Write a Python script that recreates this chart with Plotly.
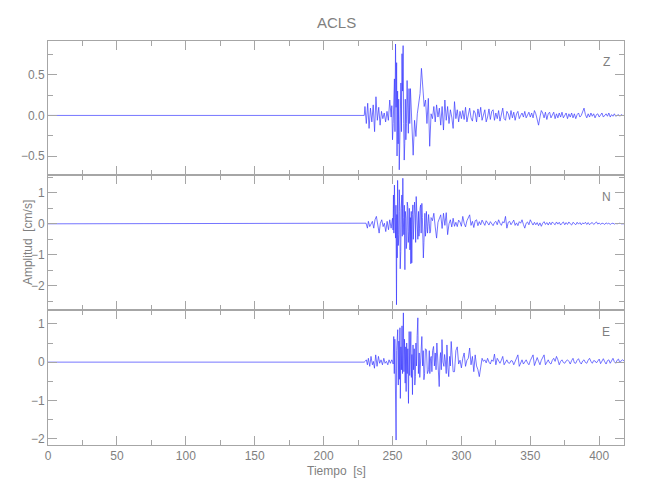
import plotly.graph_objects as go

# ---------------- data ----------------
X_RANGE = [0, 418]
PRE_T = [0, 229.5]          # quiet part before the arrival
PRE_A = [0.0, 0.0]

# Z component
Z_EARLY_START = 230         # 1 s samples
Z_EARLY = [0.11, -0.10, 0.15, -0.16, 0.09, -0.08, 0.13, -0.20, 0.23, -0.06,
           0.10, -0.12, 0.05, -0.04, 0.03, -0.08, 0.05, -0.06, 0.19]
Z_STRONG_T = [249.0, 249.5, 250.0, 250.5, 251.0, 251.4, 251.8, 252.2, 252.6, 253.0,
              253.3, 253.7, 254.1, 254.5, 254.9, 255.3, 255.7, 256.1, 256.5, 256.9,
              257.3, 257.7, 258.1, 258.5, 258.9, 259.3, 259.7, 260.1, 260.6, 261.0,
              261.5, 262.0, 262.5, 263.0]
Z_STRONG_A = [-0.02, 0.12, -0.30, -0.10, 0.11, 0.45, -0.20, 0.88, 0.10, 0.65,
              -0.50, 0.30, -0.35, 0.20, -0.67, -0.40, 0.02, 0.40, -0.20, 0.76,
              0.30, 0.86, -0.10, -0.55, -0.35, 0.20, -0.30, -0.10, 0.43, 0.10,
              -0.22, 0.33, -0.10, 0.33]
Z_LATE_START = 264          # 1 s samples to the end
Z_LATE = [-0.10, -0.49, -0.06, -0.26, 0.02, 0.19, 0.27, 0.58, 0.35, 0.11,
          0.19, -0.10, 0.21, -0.38, 0.02, -0.04, 0.11, -0.08, 0.13, -0.02,
          0.09, -0.12, 0.11, -0.18, 0.19, -0.06, 0.11, -0.10, 0.07, -0.02,
          -0.16, 0.17, -0.04, 0.07, -0.08, 0.05, -0.04,
          0.06, -0.05, 0.10, -0.08, 0.02, 0.09, -0.03, -0.07, 0.06, 0.03,
          -0.08, 0.08, -0.02, 0.10, -0.06, 0.01, 0.07, -0.08, -0.02, 0.08,
          -0.05, 0.05, 0.07, -0.06, 0.03, -0.04, 0.06, -0.07, 0.02, 0.09,
          -0.04, -0.06, 0.05, 0.02, -0.05, 0.06, -0.03, 0.04, -0.06, 0.02,
          0.05, -0.04, 0.00, 0.03, -0.02, 0.05, -0.03, 0.01, 0.04, -0.02,
          0.03, -0.03, 0.06, 0.02, -0.06, -0.12, -0.02, 0.06, 0.03, -0.03,
          0.04, -0.05, 0.02, 0.04, -0.03, 0.01, 0.04, -0.04, 0.02, -0.03,
          0.03, -0.02, 0.04, -0.03, 0.01, 0.03, -0.04, 0.02, -0.02, 0.03,
          -0.03, 0.02, -0.04, 0.01, 0.03, -0.02, 0.00, 0.05, 0.09, 0.01,
          -0.03, 0.02, -0.02, 0.03, -0.01, 0.02, -0.03, 0.01, 0.02, -0.02,
          0.01, 0.03, -0.02, 0.00, 0.02, -0.01, 0.03, -0.02, 0.01, -0.01,
          0.02, -0.01, 0.00, 0.01, -0.01, 0.01, 0.00, 0.00]

# N component: arrival and strong phase at read times, then 1 s samples from 279 s
N_STRONG_T = [229.5, 230.8, 231.8, 232.5, 233.5, 234.4, 235.4, 236.4, 237.3, 238.3,
              239.3, 240.3, 241.2, 242.2, 243.2, 244.1, 245.1, 246.1, 247.1, 248.0,
              249.0, 250.0, 250.4, 250.7, 251.0, 251.4, 251.8, 252.2, 252.5, 252.9,
              253.2, 253.4, 253.7, 253.9, 254.2, 254.6, 254.9, 255.3, 255.6, 256.0,
              256.3, 256.8, 257.1, 257.5, 257.8, 258.2, 258.6, 259.0, 259.3, 259.7,
              260.0, 260.4, 260.7, 261.1, 261.5, 261.9, 262.2, 262.6, 263.0, 263.3,
              263.6, 264.0, 264.4, 264.8, 265.1, 265.5, 266.0, 266.5, 266.8, 267.2,
              267.6, 267.9, 268.4, 268.9, 269.2, 269.6, 270.0, 270.4, 270.8, 271.3,
              271.7, 272.1, 272.4, 272.8, 273.1, 273.5, 273.9, 274.3, 274.6, 275.0,
              275.4, 275.7, 276.2, 276.7, 277.1, 277.6, 278.0, 278.4]
N_STRONG_A = [0.00, 0.02, -0.14, 0.08, -0.09, -0.03, 0.08, -0.14, 0.13, 0.24,
              -0.09, -0.30, 0.02, 0.13, -0.09, 0.02, -0.25, 0.08, -0.19, 0.13,
              -0.14, 0.18, -0.20, 0.93, -0.30, 1.25, 0.20, -0.46, 0.60, -2.61,
              0.30, -1.10, 1.40, 0.72, -0.70, -0.35, 1.10, 0.40, -1.45, -0.89,
              0.50, 0.93, -0.40, 1.47, 0.20, -0.35, 0.60, -1.48, 0.40, 0.18,
              -0.80, -0.57, 0.70, 0.56, -0.60, -0.25, 0.50, -0.84, 0.20, -1.29,
              0.40, -1.26, 0.30, 0.61, -0.50, -0.14, 0.70, 0.29, -0.60, 0.88,
              0.10, -0.03, -0.50, 0.40, -0.40, -0.14, 0.50, 0.61, -0.30, 0.66,
              0.20, -0.35, -1.10, -0.60, 0.30, 0.34, -0.40, -0.19, 0.40, 0.18,
              -0.30, -0.09, 0.30, 0.02, -0.30, -0.25, 0.20, 0.18]
N_CODA_START = 279
N_CODA = [0.10, 0.34, -0.10, -0.46, 0.05, 0.20, 0.29, -0.15, 0.34, -0.05,
          0.36, -0.35, 0.00, 0.13, -0.10, 0.18, -0.08, 0.05, -0.09, 0.12,
          0.06, -0.08, 0.24, 0.02, -0.10, 0.10, 0.18, 0.29, -0.05, 0.08,
          -0.12, 0.10, 0.13, -0.06, 0.07, -0.03, 0.12, 0.02, -0.05, 0.10,
          0.04, -0.04, 0.07, 0.01, -0.06, 0.04, 0.08, -0.03, 0.13, 0.02,
          -0.05, 0.07, 0.03, 0.24, -0.14, 0.05, 0.08, -0.03, 0.04, 0.12,
          -0.05, 0.03, -0.06, 0.07, 0.02, 0.13, -0.02, -0.14, 0.02, 0.06,
          -0.03, 0.13, 0.04, -0.04, 0.05, -0.03, 0.04, -0.06, 0.03, -0.08,
          0.02, 0.07, -0.02, 0.04, -0.04, 0.05, -0.03, 0.06, 0.01, -0.03,
          0.06, -0.01, 0.05, -0.04, 0.02, 0.06, -0.03, 0.04, -0.02, 0.06,
          0.00, -0.04, 0.05, 0.01, -0.03, 0.05, -0.01, 0.04, -0.03, 0.03,
          0.00, 0.05, -0.02, 0.04, -0.03, 0.02, 0.04, -0.02, 0.03, 0.06,
          -0.01, 0.03, -0.02, 0.02, 0.01, -0.02, 0.03, 0.00, 0.02, -0.02,
          0.01, 0.02, -0.01, 0.01, 0.00, 0.01, 0.02, 0.00, 0.01, 0.00]

# E component: strong phase at read times, then 1 s samples from 295 s
E_STRONG_T = [229.5, 230.1, 231.0, 231.8, 232.5, 233.5, 234.4, 235.4, 236.1, 236.9,
              237.8, 238.8, 239.8, 240.7, 241.7, 242.7, 243.7, 244.6, 245.6, 246.6,
              247.5, 248.5, 249.5, 250.0, 250.5, 250.9, 251.3, 251.7, 252.1, 252.6,
              253.0, 253.4, 253.8, 254.2, 254.6, 255.0, 255.4, 255.7, 256.1, 256.5,
              256.9, 257.3, 257.9, 258.3, 258.7, 259.2, 259.6, 259.9, 260.3, 260.7,
              261.1, 261.6, 262.1, 262.5, 262.9, 263.3, 263.7, 264.1, 264.5, 264.9,
              265.3, 265.8, 266.2, 266.6, 267.0, 267.4, 267.9, 268.4, 268.8, 269.4,
              269.8, 270.1, 270.6, 271.3, 271.8, 272.3, 272.8, 273.3, 273.9, 274.7,
              275.3, 276.2, 276.7, 277.1, 277.6, 278.1, 278.6, 279.1, 279.8, 280.4,
              281.0, 281.6, 282.2, 283.0, 283.9, 284.5, 284.9, 285.4, 285.9, 286.6,
              287.3, 287.8, 288.3, 289.0, 289.5, 290.2, 290.8, 291.5, 292.0, 292.6,
              293.2, 294.0]
E_STRONG_A = [0.00, 0.02, 0.06, -0.07, 0.10, -0.11, 0.15, -0.07, 0.02, -0.16,
              0.19, -0.11, 0.15, -0.03, 0.06, -0.07, 0.10, -0.03, 0.02, -0.07,
              0.06, -0.03, 0.06, 0.02, -0.05, 0.67, -0.30, 0.60, -0.40, -2.04,
              0.30, 0.70, 0.85, -0.60, 0.55, -0.45, 0.90, -0.95, 0.40, -0.20,
              0.95, -0.30, 1.29, -0.25, 0.60, -0.55, 0.40, -0.77, 0.50, -0.30,
              0.35, -1.08, 0.80, -0.35, 0.30, 0.80, -0.40, 0.20, -0.85, 0.45,
              -0.20, 0.35, -0.60, -0.38, 0.50, -0.10, 0.70, 1.16, -0.30, 0.24,
              -0.40, -0.20, 0.40, 0.67, -0.10, 0.30, -0.46, -0.30, 0.35, 0.32,
              -0.30, -0.20, 0.30, -0.30, 0.10, 0.15, -0.25, 0.30, 0.41, -0.10,
              0.24, -0.20, 0.50, -0.20, -0.64, 0.10, 0.25, -0.20, 0.59, 0.00,
              -0.11, 0.20, 0.06, -0.30, 0.45, -0.15, -0.38, 0.15, -0.10, 0.54,
              0.10, -0.25]
E_CODA_START = 295
E_CODA = [-0.25, 0.30, 0.40, -0.05, 0.05, -0.15, 0.10, 0.24, -0.11, 0.05,
          0.10, 0.37, -0.07, 0.15, -0.25, 0.19, -0.10, -0.20, -0.38, -0.05,
          0.10, 0.02, 0.06, -0.02, 0.10, 0.00, -0.05, 0.06, 0.02, 0.21,
          -0.07, 0.10, 0.02, -0.03, 0.05, 0.15, -0.07, 0.02, 0.06, -0.02,
          -0.03, 0.04, 0.03, -0.07, 0.02, 0.10, 0.19, -0.11, 0.00, 0.06,
          -0.05, 0.02, 0.06, -0.02, -0.07, 0.04, 0.10, 0.19, -0.09, 0.03,
          0.12, 0.02, -0.07, 0.05, 0.12, 0.19, -0.07, 0.00, 0.06, -0.02,
          -0.05, 0.05, 0.10, 0.02, 0.15, 0.06, -0.07, 0.02, 0.06, -0.01,
          -0.03, 0.03, 0.06, 0.02, -0.05, 0.04, 0.10, -0.02, -0.03, 0.05,
          0.09, 0.00, -0.05, 0.03, 0.06, -0.01, -0.03, 0.05, 0.10, 0.02,
          -0.03, 0.04, 0.03, -0.02, 0.05, 0.08, -0.04, 0.02, 0.09, 0.01,
          -0.05, 0.04, 0.06, -0.03, 0.02, 0.10, 0.01, -0.03, 0.05, 0.08,
          -0.02, 0.04, 0.06, 0.03]

COMPONENTS = ["Z", "N", "E"]
Y_RANGES = {"Z": [-0.734, 0.917], "N": [-2.78, 1.575], "E": [-2.17, 1.365]}
Y_TICKS = {"Z": [-0.5, 0.0, 0.5], "N": [-2, -1, 0, 1], "E": [-2, -1, 0, 1]}
Y_MINOR = {"Z": 0.25, "N": 0.5, "E": 0.5}
X_TICKS = [0, 50, 100, 150, 200, 250, 300, 350, 400]

TITLE = "ACLS"
X_TITLE = "Tiempo\u00a0 [s]"
Y_TITLE = "Amplitud\u00a0 [cm/s]"

# ---------------- build series ----------------
def grid(start, vals):
    return [start + i for i in range(len(vals))]

series = {
    "Z": (PRE_T + grid(Z_EARLY_START, Z_EARLY) + Z_STRONG_T + grid(Z_LATE_START, Z_LATE),
          PRE_A + Z_EARLY + Z_STRONG_A + Z_LATE),
    "N": (PRE_T + N_STRONG_T + grid(N_CODA_START, N_CODA), PRE_A + N_STRONG_A + N_CODA),
    "E": (PRE_T + E_STRONG_T + grid(E_CODA_START, E_CODA), PRE_A + E_STRONG_A + E_CODA),
}

GRAY = "#a6a6a6"
TEXT = "#7f7f7f"
FONT = "Liberation Sans"
LINE = "#3a3aff"

# panel boundaries chosen to fall on whole pixels (plot area is 404 px tall)
domains = {"Z": [270 / 404, 1.0], "N": [135 / 404, 270 / 404], "E": [0.0, 135 / 404]}

fig = go.Figure()
layout = dict(
    width=650, height=500,
    margin=dict(l=48, r=26, t=41, b=55),
    paper_bgcolor="white", plot_bgcolor="white",
    showlegend=False,
    font=dict(family=FONT, color=TEXT, size=12),
)

for i, comp in enumerate(COMPONENTS):
    n = i + 1
    xa = "x" if n == 1 else f"x{n}"
    ya = "y" if n == 1 else f"y{n}"
    t, a = series[comp]
    fig.add_trace(go.Scatter(x=t, y=a, mode="lines", xaxis=xa, yaxis=ya,
                             line=dict(color=LINE, width=0.7), hoverinfo="skip"))
    bottom = comp == "E"
    layout["xaxis" if n == 1 else f"xaxis{n}"] = dict(
        range=X_RANGE, domain=[0, 1], anchor=ya,
        tickvals=X_TICKS, showticklabels=bottom,
        ticks="inside", ticklen=9, tickcolor=GRAY, tickwidth=1,
        minor=dict(dtick=25, ticks="inside", ticklen=5, tickcolor=GRAY, tickwidth=1),
        showline=True, linecolor=GRAY, linewidth=1, mirror="ticks",
        showgrid=False, zeroline=False,
        tickfont=dict(size=12, color=TEXT, family=FONT),
    )
    ticktext = [f"{v:.1f}" for v in Y_TICKS[comp]] if comp == "Z" else [str(v) for v in Y_TICKS[comp]]
    layout["yaxis" if n == 1 else f"yaxis{n}"] = dict(
        range=Y_RANGES[comp], domain=domains[comp], anchor=xa,
        tickvals=Y_TICKS[comp], ticktext=[s.replace("-", "\u2212") for s in ticktext],
        ticks="inside", ticklen=9, tickcolor=GRAY, tickwidth=1,
        minor=dict(dtick=Y_MINOR[comp], tick0=0, ticks="inside", ticklen=5,
                   tickcolor=GRAY, tickwidth=1),
        showline=True, linecolor=GRAY, linewidth=1, mirror="ticks",
        showgrid=False, zeroline=False,
        tickfont=dict(size=12, color=TEXT, family=FONT),
    )

label_y = {"Z": 0.947, "N": 0.613, "E": 0.2795}
annotations = []
for comp in COMPONENTS:
    annotations.append(dict(text=comp, x=0.969, y=label_y[comp], xref="paper", yref="paper",
                            xanchor="center", yanchor="middle", showarrow=False,
                            font=dict(size=12, color=TEXT, family=FONT)))
annotations.append(dict(text=TITLE, x=0.5, y=1.046, xref="paper", yref="paper",
                        xanchor="center", yanchor="middle", showarrow=False,
                        font=dict(size=15, color=TEXT, family=FONT)))
annotations.append(dict(text=X_TITLE, x=0.5, y=-0.064, xref="paper", yref="paper",
                        xanchor="center", yanchor="middle", showarrow=False,
                        font=dict(size=12, color=TEXT, family=FONT)))
annotations.append(dict(text=Y_TITLE, x=-0.0356, y=0.501, xref="paper", yref="paper",
                        xanchor="center", yanchor="middle", textangle=-90, showarrow=False,
                        font=dict(size=12, color=TEXT, family=FONT)))
layout["annotations"] = annotations
fig.update_layout(**layout)

fig.write_html("out.html", config={"displayModeBar": False},
               post_script="document.body.style.margin='0';")
